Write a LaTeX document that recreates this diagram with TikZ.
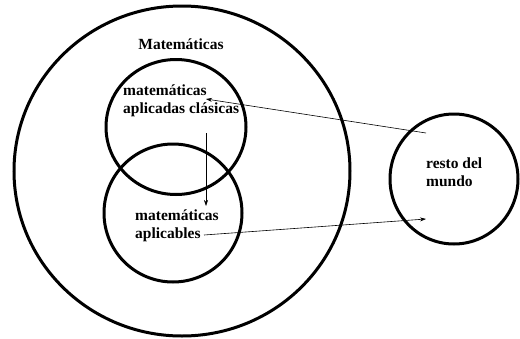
\documentclass[tikz,border=0pt]{standalone}
\usepackage{fontspec}
\setmainfont{Liberation Serif}
\usetikzlibrary{shapes.geometric, arrows.meta, positioning}

\begin{document}
\begin{tikzpicture}[
    x=1pt, y=-1pt,
    ring/.style={ellipse, draw=black, line width=3pt, inner sep=0pt},
    label/.style={align=left, anchor=west, inner sep=0pt, font=\bfseries\fontsize{15.5}{18}\selectfont},
    arrow/.style={-{Stealth[length=6pt, width=4pt]}, line width=0.6pt}
]
    \useasboundingbox (0,0) rectangle (520,338);
    % circles
    \node[ring, minimum width=336pt, minimum height=330pt] (mat) at (182,171) {};
    \node[ring, minimum width=140pt, minimum height=135pt] (clasicas) at (176,127) {};
    \node[ring, minimum width=138pt, minimum height=138pt] (aplicables) at (173,213) {};
    \node[ring, minimum width=128pt, minimum height=130pt] (mundo) at (454,179) {};
    % texts
    \node[label, anchor=center] (tmat) at (181,44) {Matemáticas};
    \node[label] (tclasicas) at (123,101) {matemáticas\\aplicadas clásicas};
    \node[label] (taplicables) at (135,226) {matemáticas\\aplicables};
    \node[label] (tmundo) at (426,172) {resto del\\mundo};
    % arrow ends
    \coordinate (from mundo) at (426,133);
    \coordinate (to clasicas) at (206,99);
    \coordinate (from clasicas) at (206,133);
    \coordinate (to aplicables) at (206,206);
    \coordinate (from aplicables) at (204,235);
    \coordinate (to mundo) at (426,219);
    % arrows
    \draw[arrow] (from mundo) -- (to clasicas);
    \draw[arrow] (from clasicas) -- (to aplicables);
    \draw[arrow] (from aplicables) -- (to mundo);
\end{tikzpicture}
\end{document}
